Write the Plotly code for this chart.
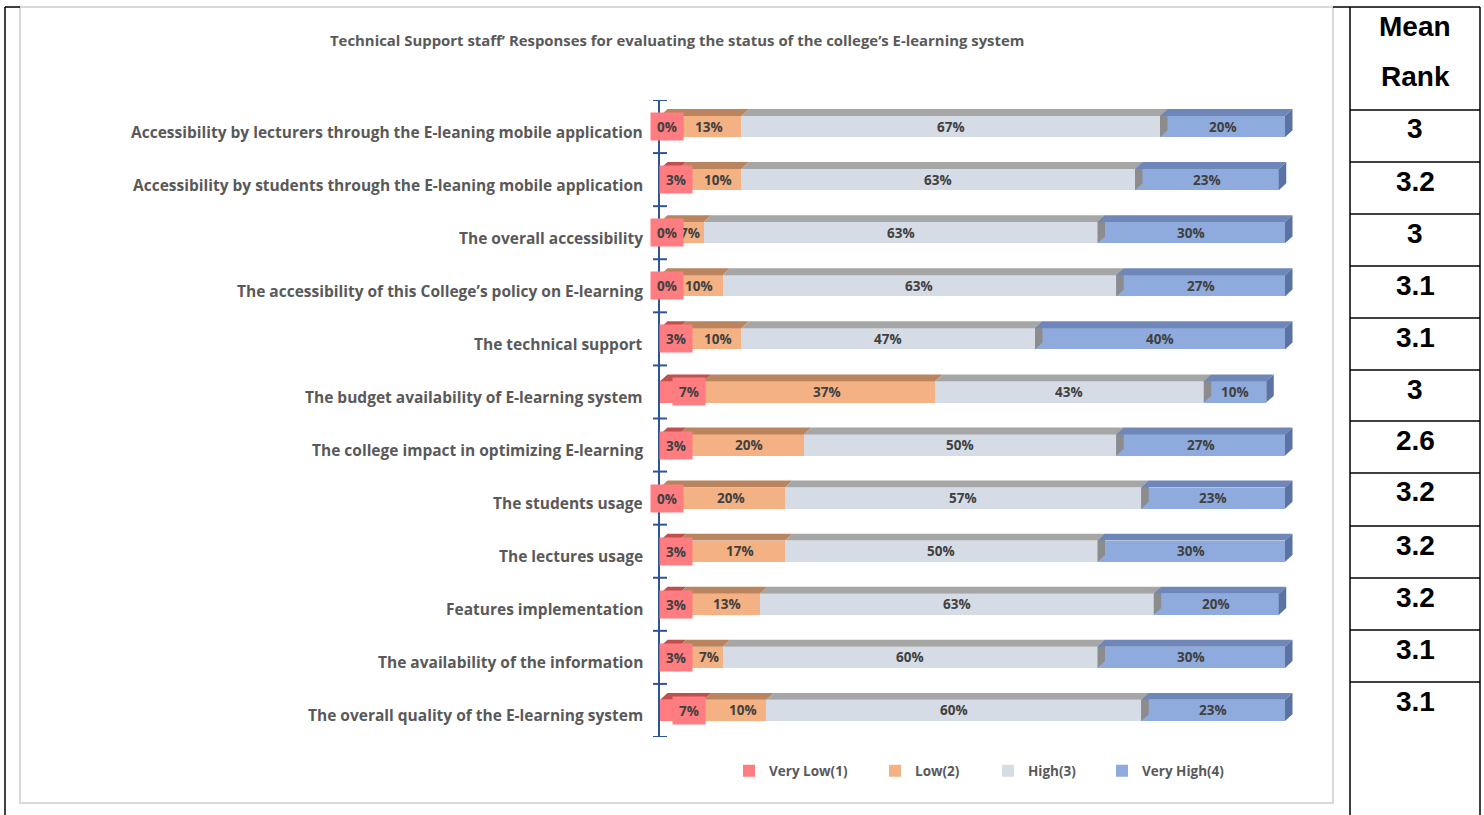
import plotly.graph_objects as go

W, H = 1484, 815

title = "Technical Support staff\u2019 Responses for evaluating the status of the college\u2019s E-learning system"

categories = [
    "Accessibility by lecturers through the E-leaning mobile application",
    "Accessibility by students through the E-leaning mobile application",
    "The overall accessibility",
    "The accessibility of this College\u2019s policy on E-learning",
    "The technical support",
    "The budget availability of E-learning system",
    "The college impact in optimizing E-learning",
    "The students usage",
    "The lectures usage",
    "Features implementation",
    "The availability of the information",
    "The overall quality of the E-learning system",
]

very_low = [0, 3, 0, 0, 3, 7, 3, 0, 3, 3, 3, 7]
low = [13, 10, 7, 10, 10, 37, 20, 20, 17, 13, 7, 10]
high = [67, 63, 63, 63, 47, 43, 50, 57, 50, 63, 60, 60]
very_high = [20, 23, 30, 27, 40, 10, 27, 23, 30, 20, 30, 23]

mean_rank = ["3", "3.2", "3", "3.1", "3.1", "3", "2.6", "3.2", "3.2", "3.2", "3.1", "3.1"]

series_names = ["Very Low(1)", "Low(2)", "High(3)", "Very High(4)"]
front_colors = ["#FF7C80", "#F4B183", "#D6DCE5", "#8FAADC"]
top_colors = ["#C0504D", "#B9845E", "#A6A6A6", "#6F87B8"]
side_colors = ["#A8413F", "#9C6B48", "#8C8C8C", "#5A73A3"]

LABEL_FONT = "Open Sans"
TEXT_GREY = "#595959"
VALUE_GREY = "#404040"

# pixel helpers (figure has zero margins, so paper coords == figure fraction)
def px(x):
    return x / W

def py(y):
    return 1 - y / H

X_LEFT, X_100 = 660, 1285
X_MAX = 101.5
PLOT_TOP, PLOT_BOT = 100, 737

BAR_W = 0.4
TOP_DEPTH = 0.13
SKEW = 1.2

idx = list(range(len(categories)))
series = [very_low, low, high, very_high]
label_shift = [7, 8, 0, 0]

# one legend per series so each entry can sit at its own position
legend_ids = ["legend", "legend2", "legend3", "legend4"]
legend_left = [729, 875, 988, 1102]

fig = go.Figure()
for name, vals, col, lg in zip(series_names, series, front_colors, legend_ids):
    fig.add_trace(go.Bar(
        y=idx, x=vals, name=name, orientation="h",
        marker=dict(color=col, line=dict(width=0)),
        width=BAR_W, hoverinfo="skip", legend=lg,
    ))

shapes = []
annotations = []
value_font = dict(family=LABEL_FONT, size=13.5, color=VALUE_GREY, weight="bold")

# 3D-style top faces and side faces for each stacked segment
for i in idx:
    start = 0
    for s, vals in enumerate(series):
        v = vals[i]
        end = start + v
        if v > 0:
            y0 = i - BAR_W / 2
            y1 = y0 - TOP_DEPTH
            shapes.append(dict(
                type="path", xref="x", yref="y", layer="above",
                path=f"M {start},{y0} L {end},{y0} L {end + SKEW},{y1} L {start + SKEW},{y1} Z",
                fillcolor=top_colors[s], line=dict(width=0),
            ))
            if s in (2, 3):
                yb = i + BAR_W / 2
                shapes.append(dict(
                    type="path", xref="x", yref="y", layer="above",
                    path=f"M {end},{y0} L {end + SKEW},{y1} L {end + SKEW},{yb - TOP_DEPTH} L {end},{yb} Z",
                    fillcolor=side_colors[s], line=dict(width=0),
                ))
            if s > 0:
                annotations.append(dict(
                    x=start + v / 2, y=i, xref="x", yref="y", xshift=label_shift[s],
                    xanchor="center", yanchor="middle",
                    text=f"{v}%", showarrow=False, font=value_font,
                ))
        start = end
    # Very Low label sits in a filled box at the start of the bar
    v = very_low[i]
    annotations.append(dict(
        x=v / 2, y=i, xref="x", yref="y", xshift=label_shift[0],
        xanchor="center", yanchor="middle",
        text=f"{v}%", showarrow=False,
        width=30, height=25, bgcolor=front_colors[0], font=value_font,
    ))
    # category label
    annotations.append(dict(
        x=px(645), y=i, xref="paper", yref="y", yshift=-5,
        xanchor="right", yanchor="middle", text=categories[i], showarrow=False,
        font=dict(family=LABEL_FONT, size=15.5, color=TEXT_GREY, weight="bold"),
    ))

# crossing tick marks on the category axis
for b in range(len(categories) + 1):
    yb = b - 0.5
    shapes.append(dict(
        type="line", xref="paper", yref="y",
        x0=px(653), x1=px(667), y0=yb, y1=yb,
        line=dict(color="#2F5597", width=2),
    ))

# chart frame
shapes.append(dict(
    type="rect", xref="paper", yref="paper",
    x0=px(20), x1=px(1333), y0=py(803), y1=py(7),
    line=dict(color="#D9D9D9", width=2), layer="below",
))

# surrounding table lines
TABLE_L, TABLE_R = 1350, 1480
black = dict(color="black", width=1.5)
shapes += [
    dict(type="line", xref="paper", yref="paper", x0=px(5), x1=px(5), y0=py(7), y1=0, line=black),
    dict(type="line", xref="paper", yref="paper", x0=px(5), x1=px(20), y0=py(7), y1=py(7), line=black),
    dict(type="line", xref="paper", yref="paper", x0=px(1333), x1=px(TABLE_R), y0=py(7), y1=py(7), line=black),
    dict(type="line", xref="paper", yref="paper", x0=px(TABLE_L), x1=px(TABLE_L), y0=py(7), y1=0, line=black),
    dict(type="line", xref="paper", yref="paper", x0=px(TABLE_R), x1=px(TABLE_R), y0=py(7), y1=0, line=black),
]
row_tops = [110, 162, 214, 266, 318, 370, 421, 473, 526, 578, 630, 682]
for r in row_tops:
    shapes.append(dict(type="line", xref="paper", yref="paper",
                       x0=px(TABLE_L), x1=px(TABLE_R), y0=py(r), y1=py(r), line=black))

TABLE_FONT = dict(family="Liberation Sans", size=28, color="black", weight="bold")
TABLE_X = px(1415)
annotations.append(dict(x=TABLE_X, y=py(26), xref="paper", yref="paper",
                        xanchor="center", yanchor="middle",
                        text="Mean", showarrow=False, font=TABLE_FONT))
annotations.append(dict(x=TABLE_X, y=py(76), xref="paper", yref="paper",
                        xanchor="center", yanchor="middle",
                        text="Rank", showarrow=False, font=TABLE_FONT))
for r, val in zip(row_tops, mean_rank):
    annotations.append(dict(x=TABLE_X, y=py(r + 19), xref="paper", yref="paper",
                            xanchor="center", yanchor="middle",
                            text=val, showarrow=False, font=TABLE_FONT))

# title
annotations.append(dict(
    x=px(677), y=py(40), xref="paper", yref="paper", text=title, showarrow=False,
    xanchor="center", yanchor="middle",
    font=dict(family=LABEL_FONT, size=14.9, color=TEXT_GREY, weight="bold"),
))

legend_font = dict(family=LABEL_FONT, size=13.5, color=TEXT_GREY, weight="bold")
legends = {
    lg: dict(orientation="h", x=px(xl), y=py(771), xanchor="left", yanchor="middle",
             font=legend_font, itemwidth=30, bgcolor="rgba(0,0,0,0)")
    for lg, xl in zip(legend_ids, legend_left)
}

fig.update_layout(
    width=W, height=H, autosize=False,
    margin=dict(l=0, r=0, t=0, b=0),
    paper_bgcolor="white", plot_bgcolor="white",
    barmode="stack",
    xaxis=dict(domain=[px(X_LEFT), px(X_LEFT + (X_100 - X_LEFT) * X_MAX / 100)],
               range=[0, X_MAX], visible=False),
    yaxis=dict(domain=[py(PLOT_BOT), py(PLOT_TOP)], range=[11.5, -0.5],
               showline=True, linecolor="#2F5597", linewidth=2,
               showticklabels=False, ticks="", showgrid=False, zeroline=False),
    shapes=shapes,
    annotations=annotations,
    showlegend=True,
    **legends,
)

fig.write_html("out.html")
